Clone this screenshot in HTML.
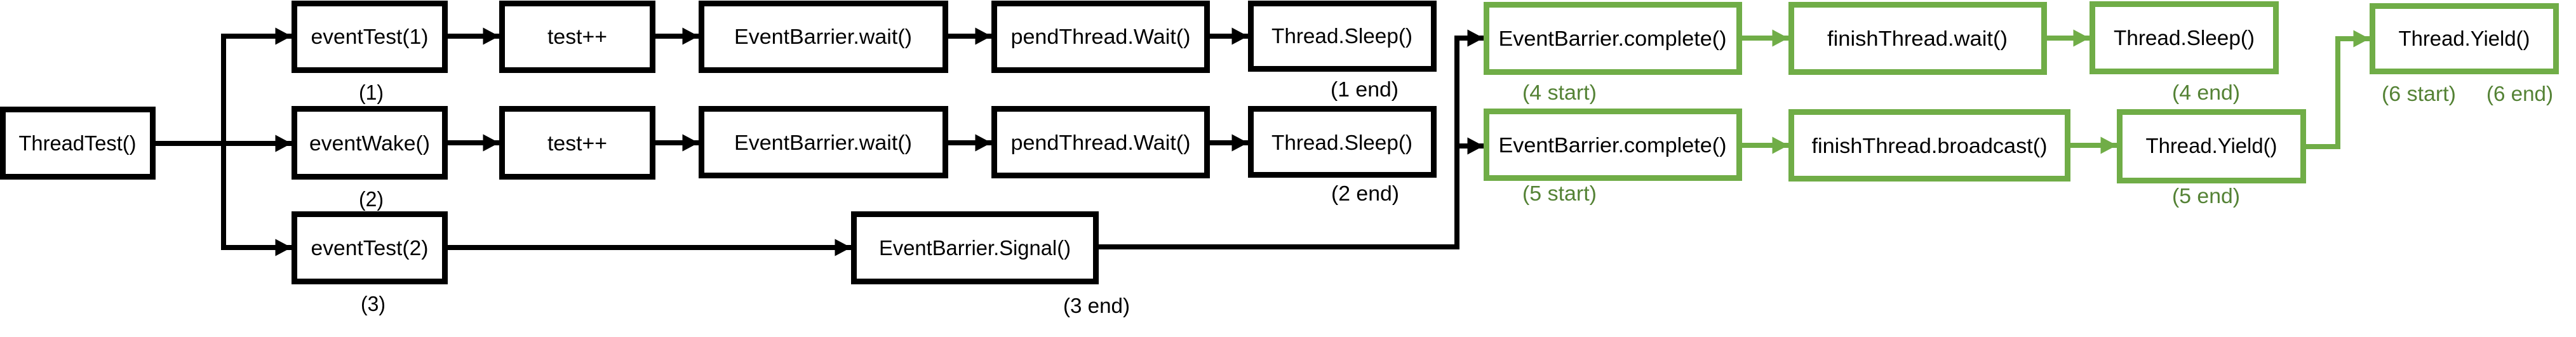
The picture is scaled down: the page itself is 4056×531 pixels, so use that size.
<!DOCTYPE html>
<html><head><meta charset="utf-8"><style>
html,body{margin:0;padding:0;background:#fff;}
svg{display:block;}
text{font-family:"Liberation Sans",sans-serif;font-size:33px;}
</style></head><body>
<svg width="4056" height="531" viewBox="0 0 4056 531" xmlns="http://www.w3.org/2000/svg">
<defs>
<marker id="ab" markerWidth="3.2" markerHeight="3.4" refX="3.2" refY="1.7" orient="auto" markerUnits="strokeWidth"><path d="M0,0 L3.2,1.7 L0,3.4 z" fill="#000"/></marker>
<marker id="ag" markerWidth="3.2" markerHeight="3.4" refX="3.2" refY="1.7" orient="auto" markerUnits="strokeWidth"><path d="M0,0 L3.2,1.7 L0,3.4 z" fill="#70AD47"/></marker>
</defs>
<!-- black boxes -->
<g fill="none" stroke="#000" stroke-width="9">
<rect x="4.5" y="172.5" width="236" height="106"/>
<rect x="463.5" y="5.5" width="237" height="105"/>
<rect x="790.5" y="5.5" width="237" height="105"/>
<rect x="1104.5" y="5.5" width="384" height="105"/>
<rect x="1565.5" y="5.5" width="335" height="105"/>
<rect x="1969.5" y="5.5" width="288" height="103"/>
<rect x="463.5" y="171.5" width="237" height="107"/>
<rect x="790.5" y="171.5" width="237" height="107"/>
<rect x="1104.5" y="171.5" width="384" height="105"/>
<rect x="1565.5" y="171.5" width="335" height="105"/>
<rect x="1969.5" y="171.5" width="288" height="104"/>
<rect x="463.5" y="337.5" width="237" height="106"/>
<rect x="1344.5" y="337.5" width="381" height="106"/>
</g>
<!-- green boxes -->
<g fill="none" stroke="#70AD47" stroke-width="9">
<rect x="2340.5" y="7.5" width="398" height="106"/>
<rect x="2820.5" y="7.5" width="398" height="106"/>
<rect x="3294.5" y="6.5" width="289" height="106"/>
<rect x="3735.5" y="9.5" width="289" height="103"/>
<rect x="2340.5" y="175.5" width="398" height="105"/>
<rect x="2820.5" y="176.5" width="435" height="105"/>
<rect x="3337.5" y="176.5" width="289" height="108"/>
</g>
<!-- black connectors -->
<g fill="none" stroke="#000" stroke-width="8">
<line x1="241" y1="226" x2="459" y2="226" marker-end="url(#ab)"/>
<polyline points="352,57 352,390"/>
<polyline points="348,57 459,57" marker-end="url(#ab)"/>
<polyline points="348,390 459,390" marker-end="url(#ab)"/>
<line x1="705" y1="57" x2="786" y2="57" marker-end="url(#ab)"/>
<line x1="1032" y1="57" x2="1100" y2="57" marker-end="url(#ab)"/>
<line x1="1493" y1="57" x2="1561" y2="57" marker-end="url(#ab)"/>
<line x1="1905" y1="57" x2="1965" y2="57" marker-end="url(#ab)"/>
<line x1="705" y1="225" x2="786" y2="225" marker-end="url(#ab)"/>
<line x1="1032" y1="225" x2="1100" y2="225" marker-end="url(#ab)"/>
<line x1="1493" y1="225" x2="1561" y2="225" marker-end="url(#ab)"/>
<line x1="1905" y1="225" x2="1965" y2="225" marker-end="url(#ab)"/>
<line x1="705" y1="390" x2="1340" y2="390" marker-end="url(#ab)"/>
<polyline points="1730,389 2294,389 2294,60 2336,60" marker-end="url(#ab)"/>
<polyline points="2294,230 2336,230" marker-end="url(#ab)"/>
</g>
<!-- green connectors -->
<g fill="none" stroke="#70AD47" stroke-width="8">
<line x1="2743" y1="60" x2="2816" y2="60" marker-end="url(#ag)"/>
<line x1="3223" y1="60" x2="3290" y2="60" marker-end="url(#ag)"/>
<line x1="2743" y1="229" x2="2816" y2="229" marker-end="url(#ag)"/>
<line x1="3260" y1="229" x2="3333" y2="229" marker-end="url(#ag)"/>
<polyline points="3631,231 3681,231 3681,61 3731,61" marker-end="url(#ag)"/>
</g>
<!-- box text -->
<g fill="#000" text-anchor="middle">
<text x="122" y="237" textLength="185" lengthAdjust="spacingAndGlyphs">ThreadTest()</text>
<text x="582" y="69" textLength="185" lengthAdjust="spacingAndGlyphs">eventTest(1)</text>
<text x="909" y="69" textLength="94" lengthAdjust="spacingAndGlyphs">test++</text>
<text x="1296" y="69" textLength="280" lengthAdjust="spacingAndGlyphs">EventBarrier.wait()</text>
<text x="1733" y="69" textLength="283" lengthAdjust="spacingAndGlyphs">pendThread.Wait()</text>
<text x="2113" y="68" textLength="222" lengthAdjust="spacingAndGlyphs">Thread.Sleep()</text>
<text x="582" y="237" textLength="190" lengthAdjust="spacingAndGlyphs">eventWake()</text>
<text x="909" y="237" textLength="94" lengthAdjust="spacingAndGlyphs">test++</text>
<text x="1296" y="236" textLength="280" lengthAdjust="spacingAndGlyphs">EventBarrier.wait()</text>
<text x="1733" y="236" textLength="283" lengthAdjust="spacingAndGlyphs">pendThread.Wait()</text>
<text x="2113" y="236" textLength="222" lengthAdjust="spacingAndGlyphs">Thread.Sleep()</text>
<text x="582" y="402" textLength="185" lengthAdjust="spacingAndGlyphs">eventTest(2)</text>
<text x="1535" y="402" textLength="302" lengthAdjust="spacingAndGlyphs">EventBarrier.Signal()</text>
<text x="2539" y="72" textLength="359" lengthAdjust="spacingAndGlyphs">EventBarrier.complete()</text>
<text x="3019" y="72" textLength="284" lengthAdjust="spacingAndGlyphs">finishThread.wait()</text>
<text x="3439" y="71" textLength="222" lengthAdjust="spacingAndGlyphs">Thread.Sleep()</text>
<text x="3880" y="72" textLength="207" lengthAdjust="spacingAndGlyphs">Thread.Yield()</text>
<text x="2539" y="240" textLength="359" lengthAdjust="spacingAndGlyphs">EventBarrier.complete()</text>
<text x="3038" y="241" textLength="371" lengthAdjust="spacingAndGlyphs">finishThread.broadcast()</text>
<text x="3482" y="241" textLength="207" lengthAdjust="spacingAndGlyphs">Thread.Yield()</text>
</g>
<!-- labels -->
<g fill="#000">
<text x="565" y="157" textLength="39" lengthAdjust="spacingAndGlyphs">(1)</text>
<text x="565" y="325" textLength="39" lengthAdjust="spacingAndGlyphs">(2)</text>
<text x="568" y="490" textLength="39" lengthAdjust="spacingAndGlyphs">(3)</text>
<text x="2095" y="152" textLength="107" lengthAdjust="spacingAndGlyphs">(1 end)</text>
<text x="2096" y="316" textLength="107" lengthAdjust="spacingAndGlyphs">(2 end)</text>
<text x="1674" y="493" textLength="105" lengthAdjust="spacingAndGlyphs">(3 end)</text>
</g>
<g fill="#548235">
<text x="2397" y="157" textLength="117" lengthAdjust="spacingAndGlyphs">(4 start)</text>
<text x="2397" y="316" textLength="117" lengthAdjust="spacingAndGlyphs">(5 start)</text>
<text x="3420" y="157" textLength="107" lengthAdjust="spacingAndGlyphs">(4 end)</text>
<text x="3420" y="320" textLength="107" lengthAdjust="spacingAndGlyphs">(5 end)</text>
<text x="3750" y="159" textLength="117" lengthAdjust="spacingAndGlyphs">(6 start)</text>
<text x="3915" y="159" textLength="105" lengthAdjust="spacingAndGlyphs">(6 end)</text>
</g>
</svg>
</body></html>
